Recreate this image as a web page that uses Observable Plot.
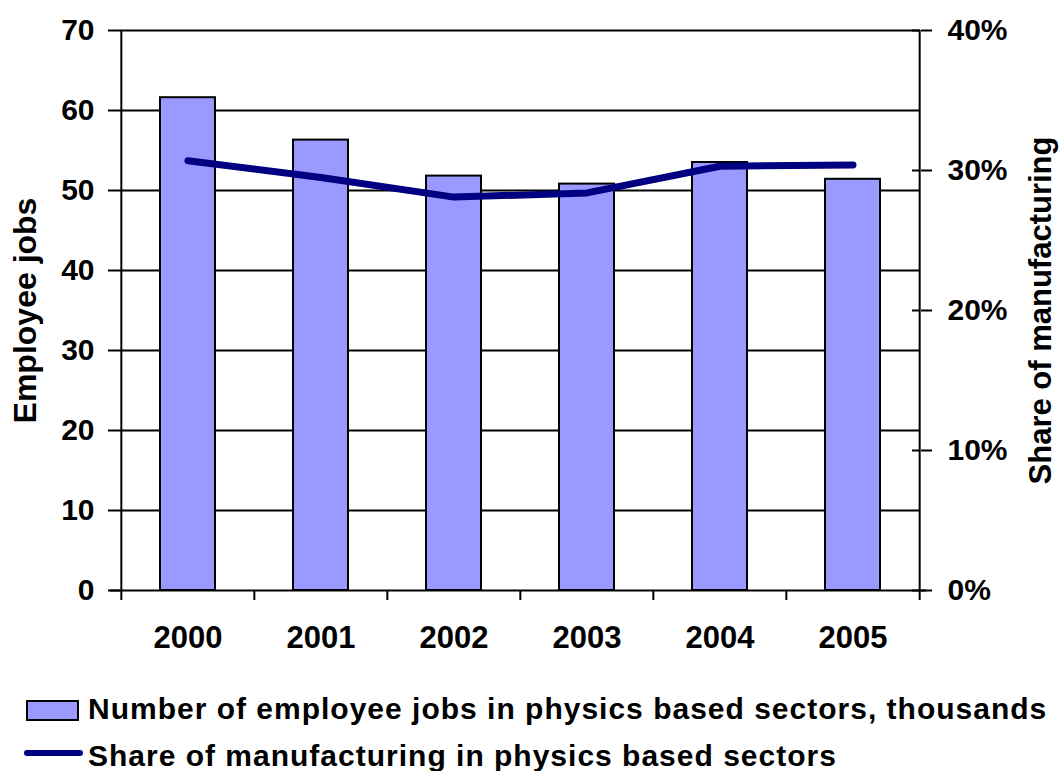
<!DOCTYPE html>
<html>
<head>
<meta charset="utf-8">
<script src="https://cdn.jsdelivr.net/npm/d3@7"></script>
<script src="https://cdn.jsdelivr.net/npm/@observablehq/plot@0.6"></script>
<style>
  html, body { margin: 0; padding: 0; background: #fff; }
  #wrap { position: relative; width: 1060px; height: 771px; font-family: "Liberation Sans", Arial, sans-serif; font-weight: bold; color: #000; }
  #chart svg { display: block; }
  .lg-text { position: absolute; left: 88px; font-size: 30px; line-height: 30px; letter-spacing: 1px; white-space: nowrap; }
  .sw-bar { position: absolute; left: 26px; top: 700px; width: 49px; height: 17px; background: #9999ff; border: 2px solid #000; }
  .sw-line { position: absolute; left: 24px; top: 750px; width: 59px; height: 6px; background: #000080; border-radius: 3px; }
</style>
</head>
<body>
<div id="wrap">
  <div id="chart"></div>
  <div class="sw-bar"></div>
  <div class="lg-text" id="lg1" style="top:694px"></div>
  <div class="sw-line"></div>
  <div class="lg-text" id="lg2" style="top:741px"></div>
</div>
<script>
const years = ["2000", "2001", "2002", "2003", "2004", "2005"];
const jobs = [61.6, 56.3, 51.8, 50.8, 53.5, 51.4];
const share = [0.307, 0.295, 0.281, 0.284, 0.303, 0.304];
const leftTicks = [0, 10, 20, 30, 40, 50, 60, 70];
const rightTicks = [0, 0.1, 0.2, 0.3, 0.4];
const seriesNames = ["Number of employee jobs in physics based sectors, thousands", "Share of manufacturing in physics based sectors"];
const yLabel = "Employee jobs";
const y2Label = "Share of manufacturing";

const data = years.map((year, i) => ({year, jobs: jobs[i], share: share[i]}));

const W = 1060, H = 670, mL = 120, mR = 140, mT = 30, mB = 80;
const step = (W - mL - mR) / years.length;
const yMax = 70, pMax = 0.4, k = yMax / pMax;
const tickUnits = 10 / ((H - mT - mB) / yMax); // 10px in y units
const font = "'Liberation Sans', Arial, sans-serif";

const chart = Plot.plot({
  width: W, height: H,
  marginLeft: mL, marginRight: mR, marginTop: mT, marginBottom: mB,
  style: {fontFamily: font, fontWeight: "bold", fontSize: "29px", color: "#000", background: "#fff", overflow: "visible"},
  x: {type: "band", domain: years, paddingInner: 0.59, paddingOuter: 0.295},
  y: {domain: [0, yMax]},
  marks: [
    Plot.gridY(leftTicks.slice(1), {stroke: "#000", strokeOpacity: 1, strokeWidth: 2}),
    Plot.barY(data, {x: "year", y: "jobs", fill: "#9999ff", stroke: "#000", strokeWidth: 2}),
    Plot.ruleY([0], {stroke: "#000", strokeWidth: 2, insetLeft: -10, insetRight: -6}),
    Plot.ruleX(years.slice(1), {x: d => d, dx: -step / 2, y1: 0, y2: -tickUnits, stroke: "#000", strokeWidth: 2}),
    Plot.ruleX([years[0]], {x: d => d, dx: -step / 2, y1: -tickUnits, y2: yMax, stroke: "#000", strokeWidth: 2}),
    Plot.ruleX([years[years.length - 1]], {x: d => d, dx: step / 2, y1: -tickUnits, y2: yMax, stroke: "#000", strokeWidth: 2}),
    Plot.ruleY(rightTicks.map(p => p * k), {insetLeft: W - mL - mR - 8, stroke: "#000", strokeWidth: 2}),
    Plot.line(data, {x: "year", y: d => d.share * k, stroke: "#000080", strokeWidth: 7, strokeLinecap: "round", strokeLinejoin: "round"}),
    Plot.axisY(leftTicks, {anchor: "left", tickSize: 12, tickPadding: 14, strokeWidth: 2, fontSize: 30, fontWeight: "bold", label: null}),
    Plot.axisY(rightTicks.map(p => p * k), {anchor: "right", tickSize: 11, tickPadding: 16, strokeWidth: 2, fontSize: 30, fontWeight: "bold", label: null,
      tickFormat: d => Math.round(d / k * 100) + "%"}),
    Plot.axisX(years, {anchor: "bottom", tickSize: 0, tickPadding: 35, fontSize: 31, fontWeight: "bold", label: null}),
    Plot.text([yLabel], {text: d => d, frameAnchor: "left", dx: -95, rotate: -90, fontSize: 32, fontWeight: "bold", textAnchor: "middle", lineAnchor: "middle"}),
    Plot.text([y2Label], {text: d => d, frameAnchor: "right", dx: 121, rotate: -90, fontSize: 31, fontWeight: "bold", textAnchor: "middle", lineAnchor: "middle"})
  ]
});
document.getElementById("chart").appendChild(chart);
document.getElementById("lg1").textContent = seriesNames[0];
document.getElementById("lg2").textContent = seriesNames[1];
</script>
</body>
</html>
